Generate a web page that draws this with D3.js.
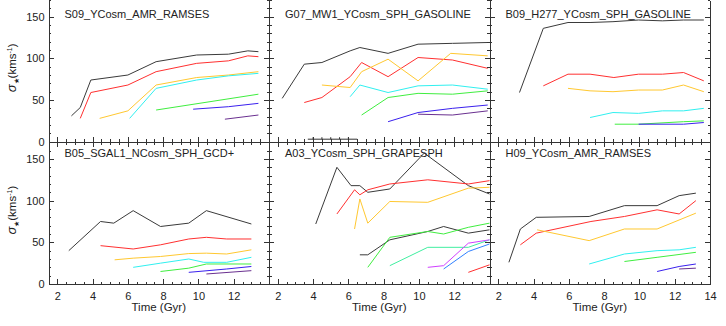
<!DOCTYPE html>
<html>
<head>
    <title>Stellar velocity dispersion vs time</title>
    <script src="https://d3js.org/d3.v7.min.js"></script>
    <style>
        body {
            margin: 0;
            background: #fff;
            font-family: "Liberation Sans", Arial, sans-serif;
        }
        .axis path, .axis line {
            stroke: #333;
            shape-rendering: crispEdges;
        }
        .axis text {
            font-family: "Liberation Sans", Arial, sans-serif;
            font-size: 11px;
            fill: #222;
        }
        .title {
            font-size: 11px;
            fill: #222;
        }
        .label {
            font-size: 11.5px;
            fill: #222;
        }
        .series {
            fill: none;
            stroke-width: 1;
        }
    </style>
</head>
<body>
    <div id="chart"></div>

    <script>
        // panel names, left to right, top row then bottom row
        const panelNames = ["S09_YCosm_AMR_RAMSES", "G07_MW1_YCosm_SPH_GASOLINE", "B09_H277_YCosm_SPH_GASOLINE",
                            "B05_SGAL1_NCosm_SPH_GCD+", "A03_YCosm_SPH_GRAPESPH", "H09_YCosm_AMR_RAMSES"];

        const xTicks = [2, 4, 6, 8, 10, 12, 14];
        const yTicks = [0, 50, 100, 150];

        // [time (Gyr), sigma (km/s)]
        const s09Black  = [[2.8,31],[3.3,41],[3.9,74],[6.0,80],[7.6,96],[9.9,104],[11.7,105],[12.8,109],[13.4,108]];
        const s09Red    = [[3.3,28],[3.9,59],[6.0,68],[7.6,84],[9.9,94],[11.7,97],[12.8,103],[13.4,102]];
        const s09Orange = [[4.4,28],[6.0,37],[7.6,68],[9.9,77],[11.7,80],[13.4,84]];
        const s09Cyan   = [[6.1,28],[7.6,64],[9.9,74],[11.7,79],[13.4,82]];
        const s09Green  = [[7.6,38],[13.4,57]];
        const s09Blue   = [[9.7,39],[11.7,42],[13.4,46]];
        const s09Purple = [[11.5,27],[13.4,32]];

        const g07Black  = [[2.25,52],[3.5,93],[4.5,95],[6.1,109],[6.65,113],[8.25,106],[9.95,117],[11.9,118],[13.9,119]];
        const g07Red    = [[3.5,47],[4.5,53],[6.1,78],[6.75,95],[8.25,78],[9.95,101],[11.9,98],[13.9,88]];
        const g07Orange = [[4.5,68],[6.1,65],[6.75,84],[8.25,99],[9.95,73],[11.8,106],[13.9,103]];
        const g07Cyan   = [[6.1,54],[6.65,68],[8.25,59],[9.95,67],[11.9,68],[13.9,63]];
        const g07Green  = [[6.75,32],[8.25,53],[9.95,58],[11.9,57],[13.9,61]];
        const g07Blue   = [[8.25,24],[9.95,35],[11.9,40],[13.9,44]];
        const g07Purple = [[9.95,33],[11.9,32],[13.9,37]];

        const b09Black  = [[3.2,59],[4.55,136],[5.95,143],[7.2,143],[8.5,144],[9.95,146],[11.3,145],[12.5,146],[13.65,146]];
        const b09Red    = [[4.55,67],[5.95,81],[7.2,81],[8.55,77],[9.95,81],[11.3,81],[12.5,83],[13.65,73]];
        const b09Orange = [[5.95,64],[7.2,61],[8.5,60],[9.95,62],[11.3,62],[12.5,68],[13.65,60]];
        const b09Cyan   = [[7.2,29],[8.5,35],[9.95,34],[11.3,37],[12.5,37],[13.65,40]];
        const b09Green  = [[8.6,21],[9.95,21],[12.5,24],[13.65,25]];
        const b09Blue   = [[9.95,21],[12.5,21],[13.65,23]];

        const b05Black  = [[2.65,40],[4.45,75],[5.2,73],[6.3,88],[7.85,69],[9.45,73],[10.45,88],[13.0,72]];
        const b05Red    = [[4.45,46],[6.3,42],[7.85,47],[9.45,54],[10.45,56],[11.6,54],[13.0,54]];
        const b05Orange = [[5.25,29],[6.3,31],[7.85,33],[9.45,36.5],[10.45,37],[11.6,36],[13.0,41]];
        const b05Cyan   = [[6.3,20],[7.85,25],[9.45,30],[10.3,26],[11.6,26],[13.0,32]];
        const b05Green  = [[7.85,15],[9.45,19],[10.45,24],[13.0,24]];
        const b05Blue   = [[9.45,14],[11.6,18],[13.0,21]];
        const b05Purple = [[10.45,12],[13.0,16]];

        const a03Black   = [[4.15,72],[5.35,140],[6.15,118],[6.65,118],[7.1,110],[8.35,114],[10.3,157],[12.8,118],[14,108]];
        const a03Red     = [[5.35,84],[6.35,113],[6.65,107],[7.1,113],[8.35,120],[10.5,125],[12.8,120],[14,124]];
        const a03Orange  = [[6.35,66],[6.65,102],[7.1,73],[8.35,99],[10.5,98],[12.8,115],[14,116]];
        const a03Black2  = [[6.65,35],[7.1,35],[8.35,53],[10.5,63],[11.4,69],[12.8,61],[14,65]];
        const a03Green   = [[7.1,20],[8.35,56],[10.5,63],[11.4,60],[12.8,68],[14,73]];
        const a03Teal    = [[8.35,22],[10.5,44],[12.8,44],[14,53]];
        const a03Magenta = [[10.5,20],[11.4,22],[12.8,49],[14,53]];
        const a03Blue    = [[11.4,18],[12.8,39],[14,48]];
        const a03Red2    = [[12.8,14],[14,23]];

        const h09Black  = [[2.6,26],[3.25,66],[4.15,80],[7.15,81],[9.15,94],[11.0,94],[12.25,106],[13.2,109]];
        const h09Red    = [[3.25,47],[4.15,61],[7.25,75],[9.15,81],[11.0,89],[12.25,84],[13.2,100]];
        const h09Orange = [[4.2,65],[7.15,52],[9.15,66],[11.0,66],[13.2,85]];
        const h09Cyan   = [[7.15,24],[9.15,36],[11.0,40],[12.25,41],[13.2,44]];
        const h09Green  = [[9.15,27],[11.0,32],[13.2,38]];
        const h09Blue   = [[11.0,15],[12.25,21],[13.2,24]];
        const h09Purple = [[12.25,18],[13.2,19]];

        // stray axis stub seen at the bottom of the G07 panel
        const g07Stub = [3.7, 6.5];

        const colors = {
            black: "#3a3a3a", red: "#ff3030", orange: "#ffc830", cyan: "#30f0f0",
            green: "#40ee40", blue: "#3a20ee", purple: "#6a3090",
            teal: "#40eea0", magenta: "#d040ff", dblue: "#3080ff"
        };

        const panelSeries = [
            [[s09Black,"black"],[s09Red,"red"],[s09Orange,"orange"],[s09Cyan,"cyan"],[s09Green,"green"],[s09Blue,"blue"],[s09Purple,"purple"]],
            [[g07Black,"black"],[g07Red,"red"],[g07Orange,"orange"],[g07Cyan,"cyan"],[g07Green,"green"],[g07Blue,"blue"],[g07Purple,"purple"]],
            [[b09Black,"black"],[b09Red,"red"],[b09Orange,"orange"],[b09Cyan,"cyan"],[b09Green,"green"],[b09Blue,"blue"]],
            [[b05Black,"black"],[b05Red,"red"],[b05Orange,"orange"],[b05Cyan,"cyan"],[b05Green,"green"],[b05Blue,"blue"],[b05Purple,"purple"]],
            [[a03Black,"black"],[a03Red,"red"],[a03Orange,"orange"],[a03Black2,"black"],[a03Green,"green"],[a03Teal,"teal"],[a03Magenta,"magenta"],[a03Blue,"dblue"],[a03Red2,"red"]],
            [[h09Black,"black"],[h09Red,"red"],[h09Orange,"orange"],[h09Cyan,"cyan"],[h09Green,"green"],[h09Blue,"blue"],[h09Purple,"purple"]]
        ];

        const width = 726, height = 326;
        const colLeft = [48.5, 269, 489.5], panelW = 220.5;
        const rowTop = [0, 142.3], panelH = 141.7;

        const svg = d3.select("#chart").append("svg")
            .attr("width", width)
            .attr("height", height);

        const minorX = d3.range(1.5, 14.01, 0.5);
        const minorY = d3.range(0, 171, 10);

        panelNames.forEach((name, i) => {
            var col = i % 3, row = Math.floor(i / 3);
            var x = d3.scaleLinear().domain([1.5, 14]).range([0, panelW]);
            var y = d3.scaleLinear().domain([0, 170]).range([panelH, 0]);

            var g = svg.append("g")
                .attr("transform", "translate(" + colLeft[col] + "," + rowTop[row] + ")");

            // data lines
            var line = d3.line().x(d => x(d[0])).y(d => y(d[1]));
            g.selectAll(".series")
                .data(panelSeries[i])
                .enter().append("path")
                .attr("class", "series")
                .attr("stroke", d => colors[d[1]])
                .attr("d", d => line(d[0]));

            // bottom axis (labels on the lower row only)
            var xLabels = row === 1 ? (col === 2 ? xTicks : xTicks.filter(t => t < 14)) : [];
            g.append("g").attr("class", "axis")
                .attr("transform", "translate(0," + panelH + ")")
                .call(d3.axisBottom(x).tickValues(xTicks).tickSize(-5).tickSizeOuter(0).tickPadding(8)
                    .tickFormat(d => xLabels.includes(d) ? d : ""));
            g.append("g").attr("class", "axis")
                .attr("transform", "translate(0," + panelH + ")")
                .call(d3.axisBottom(x).tickValues(minorX).tickSize(-2.5).tickSizeOuter(0).tickFormat(""));

            // top axis
            if (row === 1) {
                g.append("g").attr("class", "axis")
                    .call(d3.axisTop(x).tickValues(xTicks).tickSize(-5).tickSizeOuter(0).tickFormat(""));
                g.append("g").attr("class", "axis")
                    .call(d3.axisTop(x).tickValues(minorX).tickSize(-2.5).tickSizeOuter(0).tickFormat(""));
            }

            // left axis (labels on the left column only)
            g.append("g").attr("class", "axis")
                .call(d3.axisLeft(y).tickValues(yTicks).tickSize(-5).tickSizeOuter(0).tickPadding(4)
                    .tickFormat(d => col === 0 ? d : ""));
            g.append("g").attr("class", "axis")
                .call(d3.axisLeft(y).tickValues(minorY).tickSize(-2.5).tickSizeOuter(0).tickFormat(""));

            // right axis
            g.append("g").attr("class", "axis")
                .attr("transform", "translate(" + panelW + ",0)")
                .call(d3.axisRight(y).tickValues(yTicks).tickSize(-5).tickSizeOuter(0).tickFormat(""));
            g.append("g").attr("class", "axis")
                .attr("transform", "translate(" + panelW + ",0)")
                .call(d3.axisRight(y).tickValues(minorY).tickSize(-2.5).tickSizeOuter(0).tickFormat(""));

            // panel title
            g.append("text")
                .attr("class", "title")
                .attr("x", 16)
                .attr("y", row === 0 ? 17.5 : 14.5)
                .text(name);

            if (row === 1) {
                g.append("text")
                    .attr("class", "label")
                    .attr("x", panelW / 2)
                    .attr("y", panelH + 27)
                    .style("text-anchor", "middle")
                    .text("Time (Gyr)");
            }

            if (col === 0) {
                var lab = g.append("text")
                    .attr("class", "label")
                    .attr("transform", "translate(-33," + (panelH / 2 - 3) + ") rotate(-90)")
                    .style("text-anchor", "middle");
                lab.append("tspan").style("font-style", "italic").style("font-size", "13px").text("σ");
                lab.append("tspan").attr("dy", 3).style("font-size", "7px").text("★");
                lab.append("tspan").attr("dy", -3).text("(kms");
                lab.append("tspan").attr("dy", -4).style("font-size", "7px").text("-1");
                lab.append("tspan").attr("dy", 4).text(")");
            }

            if (i === 1) {
                var stubY = y(3);
                g.append("line")
                    .attr("x1", x(g07Stub[0])).attr("x2", x(g07Stub[1]))
                    .attr("y1", stubY).attr("y2", stubY)
                    .attr("stroke", "#333");
                g.selectAll(".stub")
                    .data(d3.range(g07Stub[0] + 0.3, g07Stub[1], 0.5))
                    .enter().append("line")
                    .attr("x1", d => x(d)).attr("x2", d => x(d))
                    .attr("y1", stubY).attr("y2", stubY - 2)
                    .attr("stroke", "#333");
            }
        });
    </script>
</body>
</html>
